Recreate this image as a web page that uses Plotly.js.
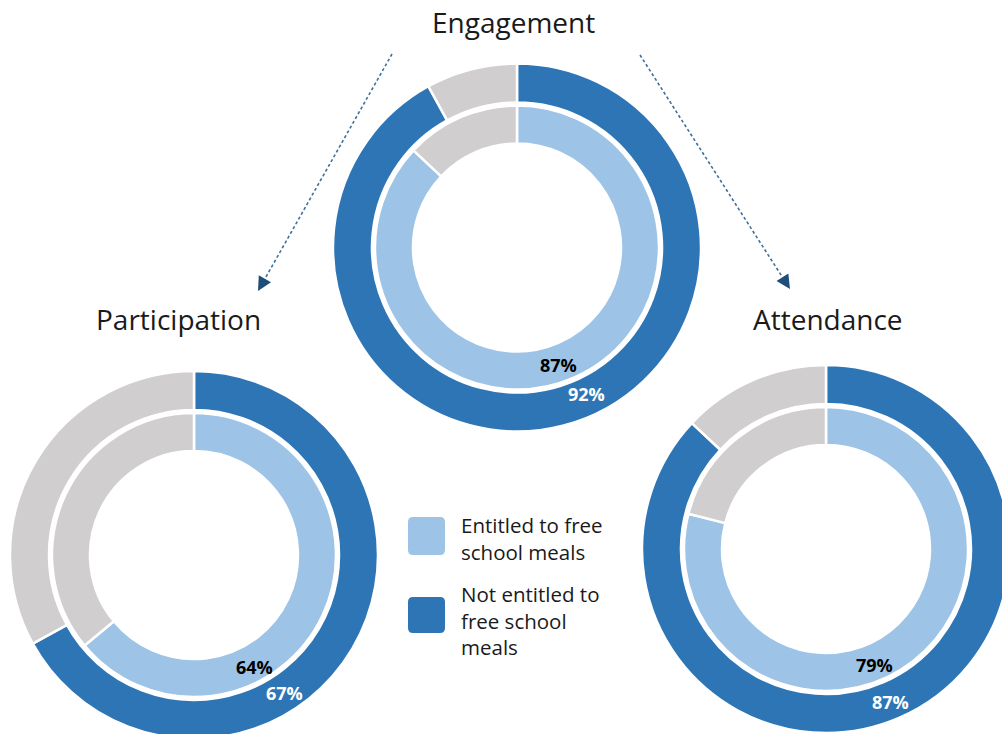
<!DOCTYPE html>
<html>
<head>
<meta charset="utf-8">
<script src="https://cdn.plot.ly/plotly-3.0.1.min.js"></script>
<style>
  html, body { margin: 0; padding: 0; overflow: hidden; background: #ffffff; }
  #chart { width: 1020px; height: 760px; }
</style>
</head>
<body>
<div id="chart"></div>
<script>
// ---- data ----
const charts = ["Engagement", "Participation", "Attendance"];
const entitled = [87, 64, 79];       // inner ring: entitled to free school meals (%)
const notEntitled = [92, 67, 87];    // outer ring: not entitled to free school meals (%)
const legendLabels = ["Entitled to free<br>school meals", "Not entitled to<br>free school<br>meals"];

// ---- style / layout config ----
const W = 1020, H = 760;
const colDark = "#2E75B6", colLight = "#9DC3E6", colGrey = "#D0CECE";
const textCol = "#1a1a1a";
const font = "Open Sans, Lato, sans-serif";
const centers = [[517, 247.5], [194, 555], [826, 549]];
const R_OUT = 184, HOLE_OUT = 145, R_IN = 142, HOLE_IN = 104;
const titlePos = [[513, 22], [178, 319], [828, 319]];
const labelPos = [
  {inner: [558, 365], outer: [586, 394]},
  {inner: [254, 667], outer: [284, 693]},
  {inner: [874, 665], outer: [890, 702]}
];

const px = x => x / W;
const py = y => 1 - y / H;

function domain(c, r) {
  return {x: [px(c[0] - r), px(c[0] + r)], y: [py(c[1] + r), py(c[1] - r)]};
}

const traces = [];
const annotations = [];
charts.forEach((name, i) => {
  const c = centers[i];
  traces.push({
    type: "pie", values: [notEntitled[i], 100 - notEntitled[i]],
    labels: ["Not entitled", "Other"], sort: false, direction: "clockwise", rotation: 0,
    hole: HOLE_OUT / R_OUT, domain: domain(c, R_OUT),
    marker: {colors: [colDark, colGrey], line: {color: "#ffffff", width: 2.5}},
    textinfo: "none", hoverinfo: "skip", showlegend: false
  });
  traces.push({
    type: "pie", values: [entitled[i], 100 - entitled[i]],
    labels: ["Entitled", "Other"], sort: false, direction: "clockwise", rotation: 0,
    hole: HOLE_IN / R_IN, domain: domain(c, R_IN),
    marker: {colors: [colLight, colGrey], line: {color: "#ffffff", width: 2.5}},
    textinfo: "none", hoverinfo: "skip", showlegend: false
  });
  annotations.push({
    xref: "paper", yref: "paper", x: px(titlePos[i][0]), y: py(titlePos[i][1]),
    xanchor: "center", yanchor: "middle", showarrow: false,
    text: name, font: {family: font, size: 28, color: textCol}
  });
  annotations.push({
    xref: "paper", yref: "paper", x: px(labelPos[i].inner[0]), y: py(labelPos[i].inner[1]),
    xanchor: "center", yanchor: "middle", showarrow: false,
    text: "<b>" + entitled[i] + "%</b>", font: {family: font, size: 18, color: "#000000"}
  });
  annotations.push({
    xref: "paper", yref: "paper", x: px(labelPos[i].outer[0]), y: py(labelPos[i].outer[1]),
    xanchor: "center", yanchor: "middle", showarrow: false,
    text: "<b>" + notEntitled[i] + "%</b>", font: {family: font, size: 18, color: "#ffffff"}
  });
});

// legend
const legendColors = [colLight, colDark];
const legendBoxes = [[408, 517, 445, 555], [408, 597, 445, 633]];
const legendTextY = [538.5, 620];
const shapes = [];
function roundRect(b, r) {
  const [x0, y0, x1, y1] = b;
  const X = v => px(v), Y = v => py(v);
  return `M ${X(x0 + r)} ${Y(y0)} L ${X(x1 - r)} ${Y(y0)} Q ${X(x1)} ${Y(y0)} ${X(x1)} ${Y(y0 + r)} ` +
         `L ${X(x1)} ${Y(y1 - r)} Q ${X(x1)} ${Y(y1)} ${X(x1 - r)} ${Y(y1)} ` +
         `L ${X(x0 + r)} ${Y(y1)} Q ${X(x0)} ${Y(y1)} ${X(x0)} ${Y(y1 - r)} ` +
         `L ${X(x0)} ${Y(y0 + r)} Q ${X(x0)} ${Y(y0)} ${X(x0 + r)} ${Y(y0)} Z`;
}
legendLabels.forEach((lab, k) => {
  shapes.push({type: "path", xref: "paper", yref: "paper", path: roundRect(legendBoxes[k], 5),
    fillcolor: legendColors[k], line: {width: 0}});
  annotations.push({
    xref: "paper", yref: "paper", x: px(459), y: py(legendTextY[k]),
    xanchor: "left", yanchor: "middle", align: "left", showarrow: false,
    text: lab, font: {family: font, size: 20.5, color: textCol}
  });
});

// dashed arrows
const arrows = [[[392, 54], [258, 291]], [[640, 55], [790, 289]]];
arrows.forEach(([s, t]) => {
  const dx = t[0] - s[0], dy = t[1] - s[1], L = Math.hypot(dx, dy);
  const ux = dx / L, uy = dy / L, nx = -uy, ny = ux;
  const hl = 14, hw = 7;
  const bx = t[0] - hl * ux, by = t[1] - hl * uy;
  shapes.push({type: "line", xref: "paper", yref: "paper",
    x0: px(s[0]), y0: py(s[1]), x1: px(bx), y1: py(by),
    line: {color: "#3f6f9c", width: 1.6, dash: "3px,2.5px"}});
  shapes.push({type: "path", xref: "paper", yref: "paper",
    path: `M ${px(t[0])} ${py(t[1])} L ${px(bx + hw * nx)} ${py(by + hw * ny)} L ${px(bx - hw * nx)} ${py(by - hw * ny)} Z`,
    fillcolor: "#1f4e79", line: {width: 0}});
});

const layout = {
  width: W, height: H,
  margin: {l: 0, r: 0, t: 0, b: 0},
  paper_bgcolor: "#ffffff", plot_bgcolor: "#ffffff",
  showlegend: false,
  annotations: annotations,
  shapes: shapes
};

Plotly.newPlot("chart", traces, layout, {displayModeBar: false, staticPlot: true});
</script>
</body>
</html>
